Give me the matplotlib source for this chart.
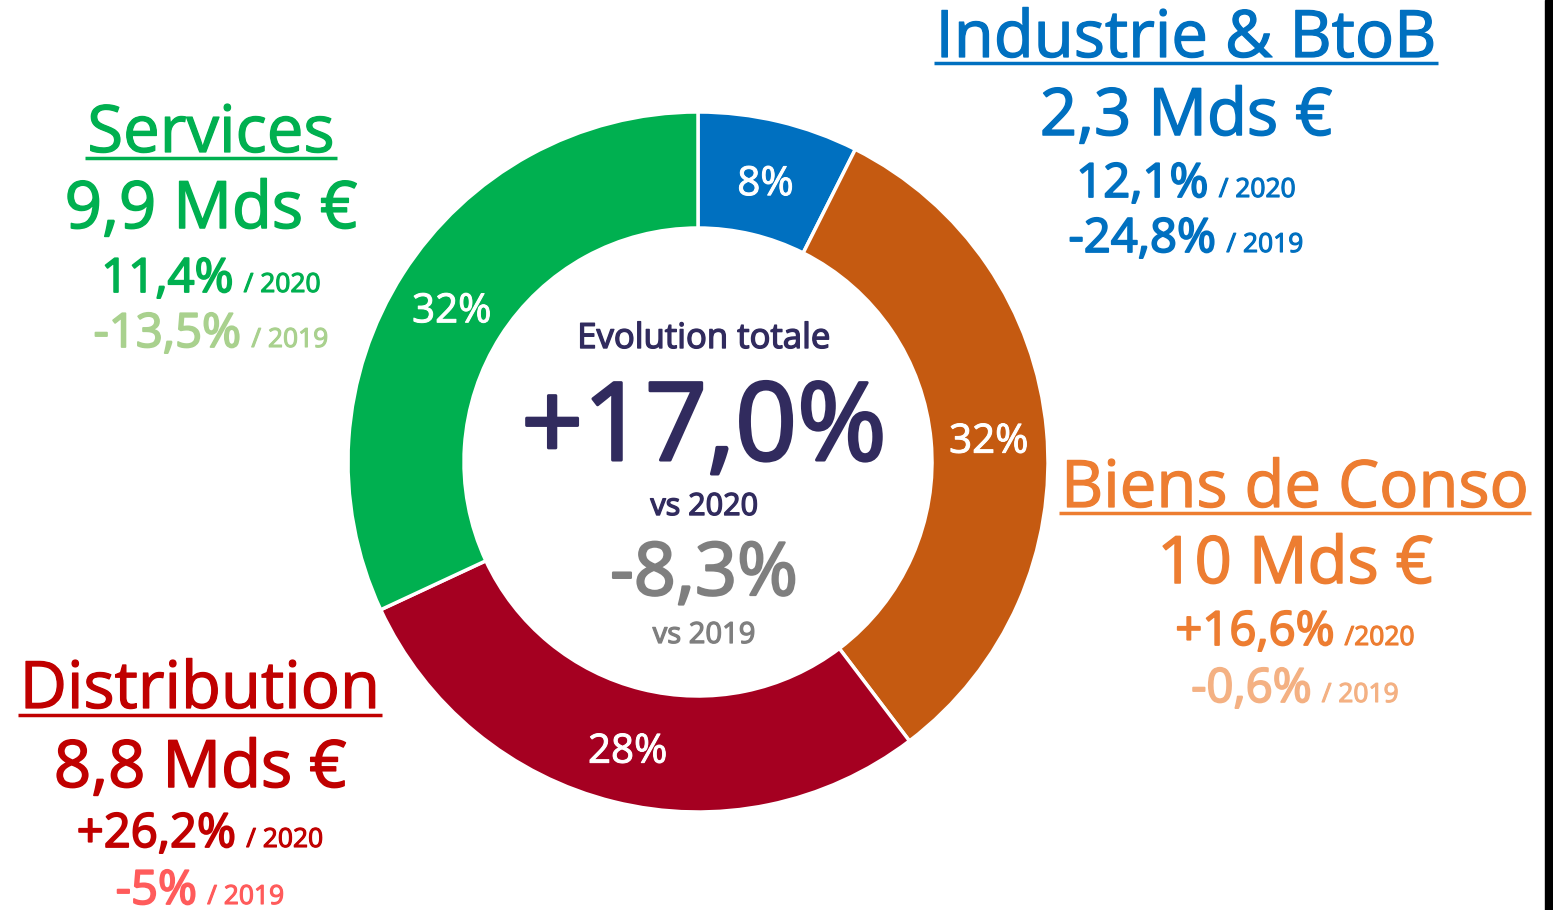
import numpy as np
import matplotlib.pyplot as plt
import matplotlib.patheffects as pe
from matplotlib.patches import Rectangle

plt.rcParams['font.family'] = ['Open Sans', 'DejaVu Sans']

# ventes par secteur (Mds €)
secteurs = ["Industrie & BtoB", "Biens de Conso", "Distribution", "Services"]
montants = [2.3, 10, 8.8, 9.9]
montant_txt = ["2,3 Mds €", "10 Mds €", "8,8 Mds €", "9,9 Mds €"]
parts_txt = ["8%", "32%", "28%", "32%"]
evol_2020 = ["12,1%", "+16,6%", "+26,2%", "11,4%"]
suffixe_2020 = ["/ 2020", "/2020", "/ 2020", "/ 2020"]
evol_2019 = ["-24,8%", "-0,6%", "-5%", "-13,5%"]
suffixe_2019 = ["/ 2019", "/ 2019", "/ 2019", "/ 2019"]

total_2020 = "+17,0%"
total_2019 = "-8,3%"

couleurs_parts = ["#0070C0", "#C55A11", "#A50021", "#00B050"]
couleurs_txt = ["#0070C0", "#ED7D31", "#C00000", "#00B050"]
couleurs_2019 = ["#0070C0", "#F4B183", "#FF5B5B", "#A9D18E"]

W, H = 1553, 910
fig = plt.figure(figsize=(W / 100, H / 100), dpi=100)
ax = fig.add_axes([0, 0, 1, 1])

def Y(y):
    return H - y

def epais(lw, couleur):
    # graisse intermediaire : contour de la meme couleur sous le texte
    return [pe.withStroke(linewidth=lw, foreground=couleur)]

cx, cy, R = 698, 462, 350
wedges, _ = ax.pie(montants, colors=couleurs_parts, startangle=90, counterclock=False,
                   radius=R, center=(cx, Y(cy)),
                   wedgeprops=dict(width=116, edgecolor="white", linewidth=2.5))
ax.set_xlim(0, W)
ax.set_ylim(0, H)
ax.axis("off")

# pourcentages dans l'anneau
for w, txt in zip(wedges, parts_txt):
    a = np.deg2rad((w.theta1 + w.theta2) / 2)
    r = R - 58
    ax.text(cx + r * np.cos(a), Y(cy) + r * np.sin(a) - 7, txt, color="white",
            fontsize=29, ha="center", va="center", path_effects=epais(0.7, "white"))

fig.canvas.draw()
renderer = fig.canvas.get_renderer()

def largeur(t):
    bb = t.get_window_extent(renderer)
    return bb.width

def ligne(xc, yb, gros, petit, couleur, fs_gros=34, fs_petit=19):
    # deux morceaux sur la meme ligne de base, centres ensemble sur xc
    t1 = ax.text(0, Y(yb), gros, color=couleur, fontsize=fs_gros,
                 ha="left", va="baseline", path_effects=epais(1.3, couleur))
    t2 = ax.text(0, Y(yb), petit, color=couleur, fontsize=fs_petit,
                 ha="left", va="baseline", path_effects=epais(0.8, couleur))
    gap = 10
    w1, w2 = largeur(t1), largeur(t2)
    x0 = xc - (w1 + gap + w2) / 2
    t1.set_x(x0)
    t2.set_x(x0 + w1 + gap)

def titre(xc, yb, txt, couleur, y_soul):
    t = ax.text(xc, Y(yb), txt, color=couleur, fontsize=47,
                ha="center", va="baseline", path_effects=epais(0.9, couleur))
    w = largeur(t)
    ax.plot([xc - w / 2 - 2, xc + w / 2 + 2], [Y(y_soul)] * 2, color=couleur, lw=2.5,
            solid_capstyle="butt")

# position des blocs de texte : x centre, lignes de base
blocs = [
    (1186, 57, 63, 135, 197, 252),
    (1295, 507, 513, 583, 645, 702),
    (200, 708, 715, 787, 847, 904),
    (211, 152, 158, 228, 292, 347),
]

for i, (xc, yt, ys, ym, y1, y2) in enumerate(blocs):
    titre(xc, yt, secteurs[i], couleurs_txt[i], ys)
    ax.text(xc, Y(ym), montant_txt[i], color=couleurs_txt[i], fontsize=47,
            ha="center", va="baseline", path_effects=epais(1.1, couleurs_txt[i]))
    ligne(xc, y1, evol_2020[i], suffixe_2020[i], couleurs_txt[i])
    ligne(xc, y2, evol_2019[i], suffixe_2019[i], couleurs_2019[i])

# centre de l'anneau
ccx = 704
nuit, gris = "#312B5E", "#7F7F7F"
ax.text(ccx, Y(348), "Evolution totale", color=nuit, fontsize=25,
        ha="center", va="baseline", path_effects=epais(1.0, nuit))
ax.text(ccx, Y(460), total_2020, color=nuit, fontsize=78,
        ha="center", va="baseline", path_effects=epais(2.2, nuit))
ax.text(ccx, Y(515), "vs 2020", color=nuit, fontsize=22,
        ha="center", va="baseline", path_effects=epais(1.0, nuit))
ax.text(ccx, Y(595), total_2019, color=gris, fontsize=53,
        ha="center", va="baseline", path_effects=epais(1.6, gris))
ax.text(ccx, Y(643), "vs 2019", color=gris, fontsize=21,
        ha="center", va="baseline", path_effects=epais(0.9, gris))

# bande noire a droite
fig.patches.append(Rectangle((1545 / W, 0), 8 / W, 1, transform=fig.transFigure,
                             color="black", zorder=10))

fig.savefig("out.png", dpi=100)
